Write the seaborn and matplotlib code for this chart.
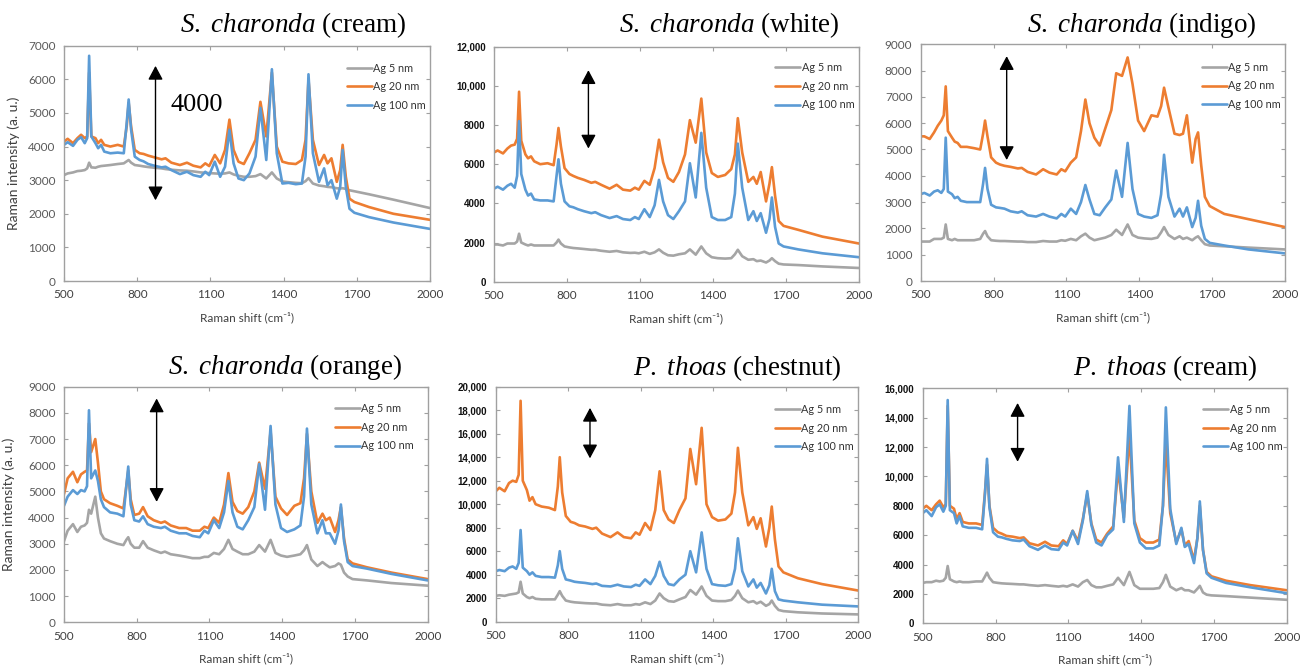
import matplotlib
matplotlib.use("Agg")
import matplotlib.pyplot as plt
import pandas as pd
import seaborn as sns

# ---------------- data ----------------
SHIFT = [500, 515, 537, 555, 570, 585, 595, 603, 612, 629,
         640, 652, 665, 690, 720, 745, 757, 765, 775, 790,
         810, 826, 845, 870, 900, 916, 940, 975, 1004, 1030,
         1060, 1079, 1095, 1118, 1140, 1160, 1178, 1195, 1215, 1237,
         1260, 1285, 1305, 1329, 1352, 1372, 1395, 1420, 1450, 1475,
         1490, 1502, 1520, 1545, 1566, 1580, 1596, 1618, 1632, 1642,
         1655, 1670, 1690, 1750, 1850, 2000]

SERIES = ["Ag 5 nm", "Ag 20 nm", "Ag 100 nm"]

sc_cream_5 = [3150, 3200, 3230, 3270, 3280, 3300, 3350, 3520, 3380, 3370,
              3400, 3420, 3430, 3450, 3480, 3500, 3560, 3600, 3520, 3450,
              3430, 3410, 3390, 3370, 3350, 3330, 3310, 3290, 3280, 3260,
              3230, 3220, 3210, 3200, 3190, 3200, 3230, 3170, 3130, 3100,
              3100, 3120, 3180, 3050, 3230, 3050, 2960, 2940, 2920, 2910,
              2970, 3060, 2900, 2840, 2820, 2800, 2790, 2760, 2750, 2760,
              2740, 2700, 2670, 2580, 2420, 2170]
sc_cream_20 = [4150, 4230, 4100, 4250, 4350, 4250, 4300, 6200, 4300, 4250,
               4100, 4200, 4050, 4000, 4050, 4000, 4600, 5300, 4600, 3900,
               3800, 3780, 3730, 3680, 3620, 3650, 3520, 3450, 3520, 3430,
               3380, 3500, 3420, 3750, 3500, 3900, 4800, 3900, 3550, 3480,
               3800, 4200, 5330, 4300, 6200, 4000, 3550, 3500, 3480, 3600,
               4200, 6000, 4200, 3450, 3750, 3500, 3650, 2950, 3300, 4050,
               3100, 2450, 2350, 2200, 2000, 1820]
sc_cream_100 = [4050, 4130, 4020, 4200, 4280, 4100, 4250, 6700, 4300, 4100,
                3950, 4050, 3850, 3800, 3820, 3800, 4700, 5400, 4500, 3700,
                3600, 3560, 3480, 3430, 3380, 3400, 3300, 3180, 3250, 3150,
                3100, 3250, 3150, 3550, 3100, 3400, 4500, 3500, 3050, 3000,
                3200, 3700, 5150, 3600, 6300, 3800, 2900, 2920, 2880, 2900,
                3700, 6150, 3800, 2950, 3350, 2850, 3000, 2450, 2800, 3900,
                2800, 2150, 2030, 1900, 1740, 1550]

sc_white_5 = [1900, 1900, 1850, 1950, 1950, 1950, 2050, 2450, 2000, 1900,
              1850, 1900, 1850, 1850, 1850, 1850, 2000, 2150, 1950, 1800,
              1750, 1720, 1700, 1670, 1630, 1630, 1580, 1530, 1570, 1500,
              1470, 1480, 1450, 1530, 1420, 1500, 1650, 1480, 1350, 1330,
              1400, 1450, 1650, 1380, 1800, 1450, 1250, 1200, 1180, 1200,
              1400, 1630, 1300, 1120, 1150, 1050, 1080, 980, 1080, 1200,
              1050, 920, 880, 850, 780, 700]
sc_white_20 = [6600, 6700, 6550, 6800, 6950, 7000, 7300, 9700, 7200, 6500,
               6300, 6400, 6150, 6000, 6050, 5950, 7000, 7850, 6900, 5800,
               5500, 5400, 5300, 5200, 5050, 5100, 4950, 4750, 4950, 4700,
               4650, 4800, 4700, 5150, 4950, 5800, 7250, 6100, 5300, 5100,
               5600, 6500, 8250, 7100, 9350, 6600, 5550, 5350, 5450, 5750,
               6500, 8350, 6600, 5100, 5350, 5000, 5600, 4100, 5000, 5850,
               4400, 3100, 2850, 2650, 2300, 1950]
sc_white_100 = [4750, 4850, 4700, 4900, 5000, 4800, 5400, 8200, 5500, 4700,
                4400, 4500, 4200, 4150, 4150, 4100, 5400, 6250, 5000, 4100,
                3850, 3800, 3700, 3600, 3500, 3550, 3400, 3250, 3350, 3200,
                3150, 3300, 3200, 3700, 3300, 3900, 5200, 4100, 3400, 3200,
                3600, 4100, 6050, 4300, 7600, 4800, 3300, 3150, 3150, 3300,
                4500, 7050, 4800, 3150, 3600, 3100, 3500, 2500, 3200, 4300,
                2800, 1950, 1800, 1650, 1450, 1250]

sc_indigo_5 = [1500, 1500, 1500, 1600, 1600, 1600, 1650, 2150, 1600, 1550,
               1600, 1550, 1550, 1550, 1550, 1600, 1800, 1900, 1700, 1550,
               1530, 1520, 1520, 1510, 1500, 1500, 1480, 1480, 1520, 1500,
               1500, 1550, 1530, 1600, 1550, 1700, 1800, 1650, 1550, 1600,
               1650, 1750, 1950, 1750, 2150, 1750, 1650, 1620, 1600, 1650,
               1850, 2050, 1750, 1600, 1700, 1600, 1650, 1550, 1650, 1700,
               1550, 1400, 1350, 1320, 1270, 1200]
sc_indigo_20 = [5500, 5500, 5400, 5650, 5900, 6100, 6300, 7400, 5700, 5450,
                5300, 5250, 5100, 5100, 5050, 5000, 5600, 6100, 5500, 4700,
                4500, 4430, 4380, 4340, 4280, 4300, 4150, 4050, 4250, 4120,
                4050, 4250, 4170, 4500, 4700, 5700, 6900, 6000, 5450, 5150,
                5800, 6500, 7900, 7800, 8500, 7500, 6100, 5700, 6300, 6250,
                6650, 7350, 6600, 5600, 5550, 5600, 6300, 4500, 5400, 5650,
                4400, 3200, 2850, 2550, 2350, 2050]
sc_indigo_100 = [3300, 3350, 3250, 3400, 3450, 3350, 3500, 5450, 3400, 3300,
                 3150, 3200, 3050, 3000, 3000, 3000, 3700, 4300, 3500, 2900,
                 2800, 2780, 2750, 2650, 2600, 2650, 2500, 2450, 2550, 2450,
                 2380, 2550, 2450, 2750, 2550, 3000, 3650, 3100, 2550, 2500,
                 2800, 3100, 4200, 3200, 5250, 3500, 2550, 2450, 2400, 2500,
                 3300, 4800, 3200, 2450, 2750, 2450, 2800, 2050, 2400, 3050,
                 2100, 1600, 1450, 1350, 1200, 1050]

sc_orange_5 = [3100, 3500, 3750, 3450, 3650, 3700, 3800, 4300, 4150, 4800,
               4000, 3400, 3200, 3100, 3000, 2950, 3150, 3250, 3000, 2850,
               2850, 3100, 2850, 2750, 2650, 2700, 2600, 2550, 2500, 2450,
               2450, 2500, 2500, 2650, 2600, 2800, 3150, 2800, 2700, 2600,
               2600, 2700, 2950, 2700, 3150, 2650, 2550, 2500, 2550, 2600,
               2750, 2950, 2400, 2150, 2300, 2200, 2100, 2150, 2250, 2200,
               1900, 1750, 1650, 1600, 1500, 1400]
sc_orange_20 = [4900, 5500, 5750, 5350, 5650, 5750, 5800, 7600, 6500, 7000,
                6100, 5000, 4700, 4550, 4450, 4350, 5200, 5800, 4700, 4100,
                4150, 4400, 4050, 3900, 3800, 3850, 3700, 3600, 3600, 3500,
                3500, 3650, 3600, 4000, 3800, 4500, 5700, 4600, 4250, 4150,
                4400, 5000, 6100, 5100, 7300, 4800, 4350, 4100, 4450, 4550,
                5500, 7200, 5000, 3800, 4150, 3900, 4000, 3450, 3900, 4400,
                3200, 2400, 2250, 2100, 1900, 1650]
sc_orange_100 = [4450, 4800, 5050, 4900, 5050, 5000, 5200, 8100, 5500, 5800,
                 5400, 4700, 4400, 4200, 4150, 4050, 5200, 5950, 4500, 3900,
                 3850, 4050, 3750, 3650, 3600, 3650, 3500, 3400, 3400, 3300,
                 3250, 3500, 3400, 3900, 3600, 4200, 5400, 4200, 3650, 3550,
                 3900, 4400, 6050, 4300, 7500, 4500, 3600, 3450, 3550, 3700,
                 4800, 7400, 4500, 3400, 3900, 3400, 3400, 3000, 3500, 4500,
                 3100, 2300, 2150, 2050, 1850, 1600]

pt_chestnut_5 = [2200, 2250, 2200, 2300, 2350, 2400, 2500, 3400, 2400, 2100,
                 2000, 2100, 1950, 1900, 1900, 1900, 2300, 2600, 2200, 1800,
                 1700, 1650, 1620, 1580, 1550, 1550, 1450, 1400, 1500, 1400,
                 1400, 1500, 1450, 1650, 1500, 1800, 2400, 2000, 1750, 1700,
                 1900, 2100, 2700, 2300, 3000, 2200, 1800, 1750, 1750, 1850,
                 2200, 2650, 2000, 1650, 1750, 1550, 1700, 1350, 1500, 1800,
                 1350, 1000, 900, 800, 700, 620]
pt_chestnut_20 = [11100, 11400, 11100, 11800, 12000, 11900, 12500, 18800, 12000, 11200,
                  10300, 10600, 10000, 9800, 9700, 9500, 11500, 14000, 11000, 9000,
                  8500, 8400, 8200, 8100, 7900, 8000, 7500, 7200, 7600, 7200,
                  7100, 7600, 7400, 8400, 7800, 9500, 12800, 9500, 8700, 8400,
                  9500, 10500, 14700, 11700, 16500, 10000, 8900, 8600, 8700, 9200,
                  11000, 14800, 11000, 8200, 8900, 7900, 8800, 6400, 8000, 9800,
                  7000, 4700, 4200, 3700, 3200, 2650]
pt_chestnut_100 = [4300, 4400, 4300, 4600, 4700, 4500, 5000, 7800, 4600, 4300,
                   4000, 4200, 3900, 3800, 3800, 3750, 4800, 6000, 4500, 3600,
                   3500, 3400, 3350, 3300, 3200, 3250, 3050, 3000, 3150, 3000,
                   2950, 3150, 3050, 3600, 3200, 3900, 5100, 3900, 3200, 3100,
                   3600, 4000, 6000, 4200, 7600, 4500, 3200, 3100, 3050, 3200,
                   4500, 7100, 4300, 3000, 3600, 2900, 3300, 2400, 3100, 4500,
                   2600, 1900, 1800, 1650, 1450, 1300]

pt_cream_5 = [2750, 2800, 2800, 2900, 2850, 2900, 3100, 3900, 3000, 2850,
              2800, 2850, 2800, 2800, 2850, 2850, 3200, 3450, 3100, 2800,
              2750, 2720, 2700, 2680, 2650, 2650, 2600, 2550, 2600, 2550,
              2500, 2550, 2500, 2650, 2500, 2800, 2950, 2600, 2450, 2450,
              2550, 2650, 3100, 2600, 3500, 2600, 2350, 2350, 2350, 2400,
              2800, 3300, 2500, 2250, 2400, 2250, 2250, 2100, 2350, 2550,
              2100, 1950, 1900, 1850, 1750, 1600]
pt_cream_20 = [7800, 8000, 7700, 8100, 8350, 7900, 8100, 14800, 8000, 7800,
               7100, 7500, 6900, 6800, 6800, 6700, 9000, 10800, 8000, 6500,
               6200, 6100, 5950, 5900, 5800, 5850, 5450, 5300, 5550, 5300,
               5250, 5650, 5400, 6300, 5600, 7100, 8800, 6800, 5700, 5500,
               6100, 6600, 10500, 7200, 12900, 7000, 5800, 5500, 5500, 5700,
               8000, 12400, 7500, 5500, 6400, 5300, 5600, 4300, 5800, 8000,
               5000, 3500, 3200, 2900, 2600, 2250]
pt_cream_100 = [7500, 7700, 7300, 7900, 8100, 7600, 8000, 15200, 7700, 7500,
                6800, 7300, 6600, 6500, 6500, 6400, 8900, 11200, 7900, 6200,
                5900, 5850, 5750, 5650, 5600, 5700, 5250, 5000, 5300, 5050,
                5000, 5500, 5300, 6300, 5400, 7000, 9000, 6700, 5500, 5300,
                6000, 6400, 11300, 6900, 14800, 6800, 5500, 5100, 5100, 5300,
                8000, 14700, 7800, 5400, 6500, 5200, 5400, 4100, 5800, 8300,
                5000, 3400, 3100, 2750, 2450, 2050]

TITLE_SPECIES = ["S.\\ charonda", "S.\\ charonda", "S.\\ charonda",
                 "S.\\ charonda", "P.\\ thoas", "P.\\ thoas"]
TITLE_COLOUR = ["(cream)", "(white)", "(indigo)", "(orange)", "(chestnut)", "(cream)"]

X_TICKS = [500, 800, 1100, 1400, 1700, 2000]
Y_TICKS = [
    [0, 1000, 2000, 3000, 4000, 5000, 6000, 7000],
    [0, 2000, 4000, 6000, 8000, 10000, 12000],
    [0, 1000, 2000, 3000, 4000, 5000, 6000, 7000, 8000, 9000],
    [0, 1000, 2000, 3000, 4000, 5000, 6000, 7000, 8000, 9000],
    [0, 2000, 4000, 6000, 8000, 10000, 12000, 14000, 16000, 18000, 20000],
    [0, 2000, 4000, 6000, 8000, 10000, 12000, 14000, 16000],
]
Y_TICK_LABELS = [
    ["0", "1000", "2000", "3000", "4000", "5000", "6000", "7000"],
    ["0", "2000", "4000", "6000", "8000", "10,000", "12,000"],
    ["0", "1000", "2000", "3000", "4000", "5000", "6000", "7000", "8000", "9000"],
    ["0", "1000", "2000", "3000", "4000", "5000", "6000", "7000", "8000", "9000"],
    ["0", "2000", "4000", "6000", "8000", "10,000", "12,000", "14,000", "16,000", "18,000", "20,000"],
    ["0", "2000", "4000", "6000", "8000", "10,000", "12,000", "14,000", "16,000"],
]
PANEL_DATA = [
    [sc_cream_5, sc_cream_20, sc_cream_100],
    [sc_white_5, sc_white_20, sc_white_100],
    [sc_indigo_5, sc_indigo_20, sc_indigo_100],
    [sc_orange_5, sc_orange_20, sc_orange_100],
    [pt_chestnut_5, pt_chestnut_20, pt_chestnut_100],
    [pt_cream_5, pt_cream_20, pt_cream_100],
]
SCALE_LABEL = "4000"

# ---------------- layout / style ----------------
COLORS = ["#A5A5A5", "#ED7D31", "#5B9BD5"]
W, H = 1308, 668

# axes boxes in pixels: left, top, right, bottom
AX_PX = [
    (64, 45.7, 430, 281),
    (494, 46.7, 859, 281.7),
    (920.7, 44.3, 1285, 281),
    (64, 386.7, 427.7, 622.3),
    (495.7, 386.7, 858.3, 621.7),
    (922.7, 388.3, 1286.7, 623.3),
]
TITLE_POS = [(407, 25), (840, 25), (1257, 25), (402, 367.5), (842, 368), (1258, 368)]
ARROWS = [(875, 2400, 6400), (888, 6800, 10800), (854, 4600, 8550),
          (882, 4600, 8550), (890, 13900, 18200), (891, 11000, 15000)]
LEGEND_ANCHOR = [(0.773, 0.928), (0.770, 0.934), (0.772, 0.926),
                 (0.745, 0.930), (0.770, 0.926), (0.771, 0.933)]
BOLD_Y = [False, True, False, False, True, True]
HAS_YLABEL = [True, False, False, True, False, False]

sns.set_theme(style="white")
plt.rcParams["font.family"] = ["Lato", "DejaVu Sans"]
plt.rcParams["mathtext.fontset"] = "custom"
plt.rcParams["mathtext.it"] = "Liberation Serif:italic"
plt.rcParams["mathtext.rm"] = "Liberation Serif"

fig = plt.figure(figsize=(W / 100, H / 100), dpi=100)
fig.patch.set_facecolor("white")

for i in range(6):
    l, t, r, b = AX_PX[i]
    ax = fig.add_axes([l / W, 1 - b / H, (r - l) / W, (b - t) / H])
    vals = PANEL_DATA[i]
    df = pd.DataFrame({
        "shift": SHIFT * 3,
        "intensity": vals[0] + vals[1] + vals[2],
        "series": [SERIES[0]] * len(SHIFT) + [SERIES[1]] * len(SHIFT) + [SERIES[2]] * len(SHIFT),
    })
    sns.lineplot(data=df, x="shift", y="intensity", hue="series", hue_order=SERIES,
                 palette=COLORS, ax=ax, linewidth=1.9, estimator=None, sort=False,
                 solid_joinstyle="round", solid_capstyle="round")
    ax.set_xlim(500, 2000)
    ax.set_ylim(0, Y_TICKS[i][-1])
    ax.set_xticks(X_TICKS)
    ax.set_xticklabels([str(v) for v in X_TICKS])
    ax.set_yticks(Y_TICKS[i])
    if BOLD_Y[i]:
        ax.set_yticklabels(Y_TICK_LABELS[i], fontsize=7, fontweight="bold",
                           family=["Liberation Sans", "DejaVu Sans"], color="#111111")
    else:
        ax.set_yticklabels(Y_TICK_LABELS[i], fontsize=8.5, color="#595959")
    ax.tick_params(axis="both", direction="in", length=3, width=0.8, color="#a0a0a0",
                   top=True, right=True, left=True, bottom=True)
    ax.tick_params(axis="x", labelsize=8.5, labelcolor="#404040", pad=6)
    ax.tick_params(axis="y", pad=6)
    for sp in ax.spines.values():
        sp.set_color("#a0a0a0")
        sp.set_linewidth(1.0)
        sp.set_visible(True)
    ax.set_xlabel("Raman shift (cm⁻¹)", fontsize=8.5, color="#404040")
    ax.xaxis.set_label_coords(0.5, -0.13)
    if HAS_YLABEL[i]:
        ax.set_ylabel("Raman intensity (a. u.)", fontsize=10, color="#404040")
        ax.yaxis.set_label_coords(-0.12 if i == 0 else -0.135, 0.5)
    else:
        ax.set_ylabel("")

    handles, labels = ax.get_legend_handles_labels()
    leg = ax.legend(handles, labels, loc="upper left", bbox_to_anchor=LEGEND_ANCHOR[i],
                    frameon=False, fontsize=7.8, handlelength=2.3, handletextpad=0.15,
                    labelspacing=0.7, borderpad=0, borderaxespad=0)
    for txt in leg.get_texts():
        txt.set_color("#333333")
    for ln in leg.get_lines():
        ln.set_linewidth(1.9)

    ax_x, y0, y1 = ARROWS[i]
    ax.annotate("", xy=(ax_x, y1), xytext=(ax_x, y0),
                arrowprops=dict(arrowstyle="<|-|>,head_length=0.6,head_width=0.32",
                                color="black", lw=1.0, shrinkA=0, shrinkB=0,
                                mutation_scale=14))
    if i == 0:
        ax.text(935, 5250, SCALE_LABEL, fontsize=19, family="Liberation Serif",
                ha="left", va="center", color="black")

    tx, ty = TITLE_POS[i]
    fig.text(tx / W, 1 - ty / H, "$\\mathit{" + TITLE_SPECIES[i] + "}$ " + TITLE_COLOUR[i],
             fontsize=19.5, family="Liberation Serif", ha="right", va="center", color="black")

fig.savefig("out.png", dpi=100, facecolor="white")
